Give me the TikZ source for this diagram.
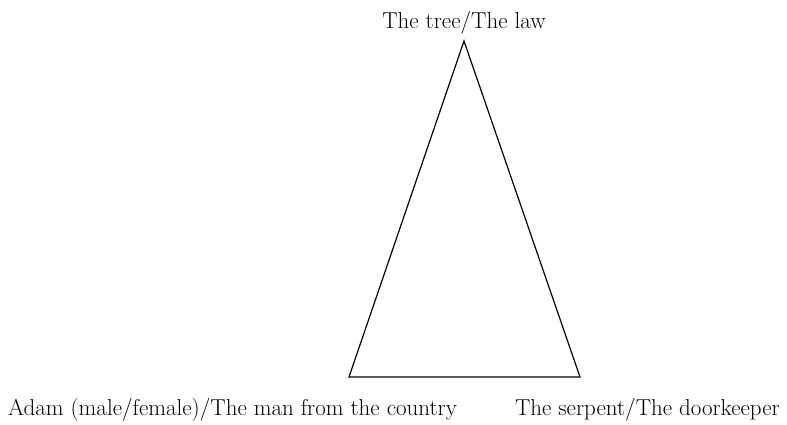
\documentclass[tikz,border=0pt]{standalone}
\begin{document}
\begin{tikzpicture}[x=1pt,y=-1pt,lbl/.style={font=\fontsize{23}{27}\selectfont,inner sep=0pt}]
\useasboundingbox (0,0) rectangle (787,424);
\coordinate (top) at (464,41);
\coordinate (left) at (349,377);
\coordinate (right) at (580,377);
\draw[line width=1.2pt,line join=miter] (top) -- (left) -- (right) -- cycle;
\node[lbl,anchor=base] (law) at (464,28) {The tree/The law};
\node[lbl,anchor=base west] (adam) at (8,415) {Adam (male/female)/The man from the country};
\node[lbl,anchor=base east] (serpent) at (780,415) {The serpent/The doorkeeper};
\end{tikzpicture}
\end{document}
